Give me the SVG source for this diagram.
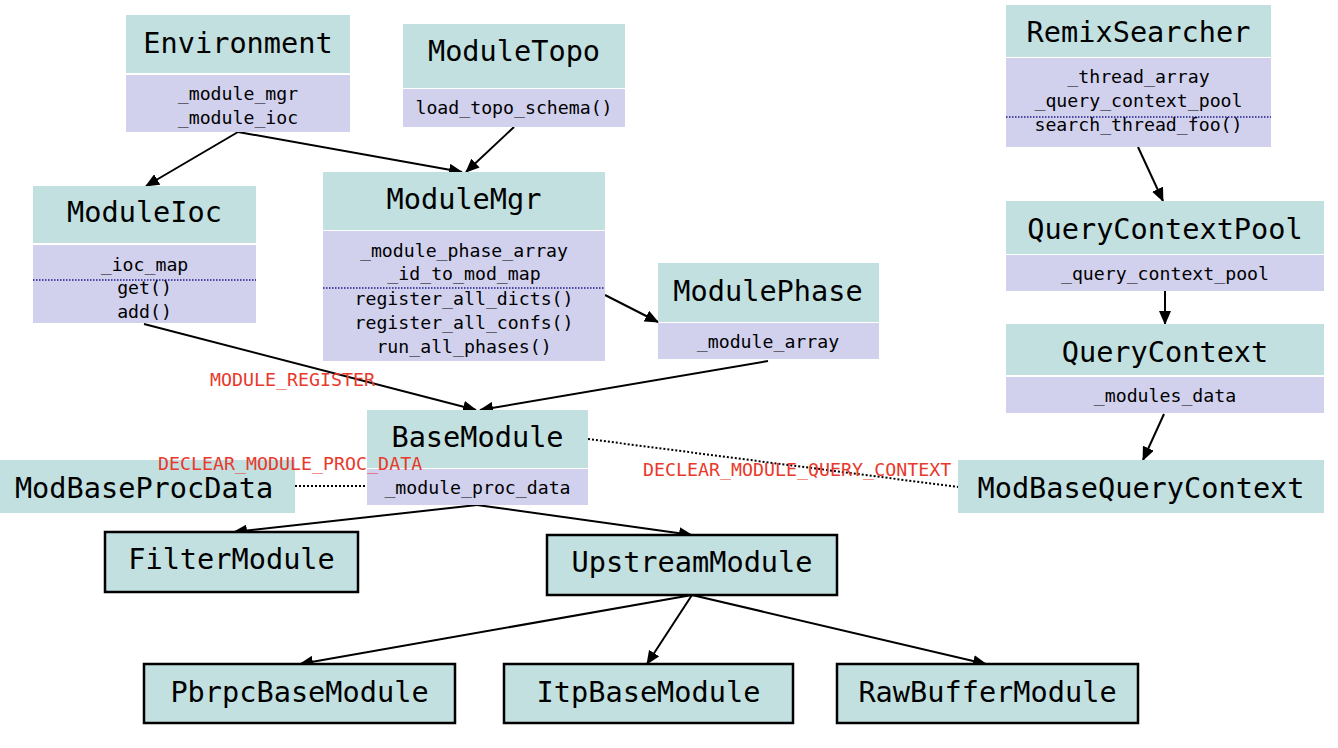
<svg xmlns="http://www.w3.org/2000/svg" width="1338" height="748" viewBox="0 0 1338 748">
<style>
.hd{fill:#c2e0e0}
.bd{fill:#d1d1ee}
.bx{fill:#c2e0e0;stroke:#000;stroke-width:2.5}
.t{font-family:"DejaVu Sans Mono","Liberation Mono",monospace;font-size:28.6px;fill:#000;text-anchor:middle}
.s{font-family:"DejaVu Sans Mono","Liberation Mono",monospace;font-size:18.2px;fill:#000;text-anchor:middle}
.r{font-family:"DejaVu Sans Mono","Liberation Mono",monospace;font-size:18.3px;fill:#e8392c}
.dv{stroke:#1c1c8a;stroke-width:1.5;stroke-dasharray:1.5 1.5;fill:none}
.c{stroke:#000;stroke-width:2;fill:none;marker-end:url(#ah)}
.d{stroke:#000;stroke-width:2;fill:none;stroke-dasharray:2 2}
</style>
<defs>
<marker id="ah" markerUnits="userSpaceOnUse" markerWidth="14" markerHeight="12" refX="13" refY="6" orient="auto">
<path d="M0,0 L14,6 L0,12 z" fill="#000"/>
</marker>
</defs>
<rect width="1338" height="748" fill="#fff"/>

<g id="connectors">
<line class="c" x1="238" y1="132" x2="146" y2="186"/>
<line class="c" x1="238" y1="132" x2="462" y2="172"/>
<line class="c" x1="514" y1="127" x2="466" y2="172"/>
<line class="c" x1="605" y1="295" x2="658" y2="322"/>
<line class="c" x1="144" y1="324" x2="476" y2="410"/>
<line class="c" x1="768" y1="361" x2="480" y2="410"/>
<line class="d" x1="588" y1="439" x2="958" y2="487"/>
<line class="d" x1="295" y1="486" x2="366" y2="486"/>
<line class="c" x1="477" y1="505" x2="234" y2="532"/>
<line class="c" x1="477" y1="505" x2="692" y2="535"/>
<line class="c" x1="692" y1="595" x2="300" y2="664"/>
<line class="c" x1="692" y1="595" x2="647" y2="664"/>
<line class="c" x1="692" y1="595" x2="986" y2="664"/>
<line class="c" x1="1138" y1="147" x2="1163" y2="201"/>
<line class="c" x1="1165" y1="291" x2="1165" y2="324"/>
<line class="c" x1="1164" y1="414" x2="1143" y2="460"/>
</g>

<g id="Environment">
<rect class="hd" x="126" y="15" width="224" height="58"/>
<rect class="bd" x="126" y="75" width="224" height="57"/>
<text class="t" x="238" y="53">Environment</text>
<text class="s" x="238" y="100">_module_mgr</text>
<text class="s" x="238" y="124">_module_ioc</text>
</g>

<g id="ModuleTopo">
<rect class="hd" x="403" y="24" width="222" height="64"/>
<rect class="bd" x="403" y="89" width="222" height="38"/>
<text class="t" x="514" y="61">ModuleTopo</text>
<text class="s" x="514" y="114">load_topo_schema()</text>
</g>

<g id="ModuleIoc">
<rect class="hd" x="33" y="186" width="223" height="57"/>
<rect class="bd" x="33" y="245" width="223" height="78"/>
<text class="t" x="144.5" y="222">ModuleIoc</text>
<text class="s" x="144.5" y="271">_ioc_map</text>
<line class="dv" x1="33" y1="280" x2="256" y2="280"/>
<text class="s" x="144.5" y="294">get()</text>
<text class="s" x="144.5" y="318">add()</text>
</g>

<g id="ModuleMgr">
<rect class="hd" x="323" y="172" width="282" height="58"/>
<rect class="bd" x="323" y="231" width="282" height="130"/>
<text class="t" x="464" y="209">ModuleMgr</text>
<text class="s" x="464" y="257">_module_phase_array</text>
<text class="s" x="464" y="280">_id_to_mod_map</text>
<line class="dv" x1="323" y1="288" x2="605" y2="288"/>
<text class="s" x="464" y="305">register_all_dicts()</text>
<text class="s" x="464" y="329">register_all_confs()</text>
<text class="s" x="464" y="353">run_all_phases()</text>
</g>

<g id="ModulePhase">
<rect class="hd" x="658" y="263" width="221" height="59"/>
<rect class="bd" x="658" y="323" width="221" height="36"/>
<text class="t" x="768" y="301">ModulePhase</text>
<text class="s" x="768" y="348">_module_array</text>
</g>

<g id="RemixSearcher">
<rect class="hd" x="1006" y="5" width="265" height="52"/>
<rect class="bd" x="1006" y="58" width="265" height="89"/>
<text class="t" x="1138.5" y="42">RemixSearcher</text>
<text class="s" x="1138.5" y="83">_thread_array</text>
<text class="s" x="1138.5" y="107">_query_context_pool</text>
<line class="dv" x1="1006" y1="117" x2="1271" y2="117"/>
<text class="s" x="1138.5" y="131">search_thread_foo()</text>
</g>

<g id="QueryContextPool">
<rect class="hd" x="1006" y="201" width="318" height="53"/>
<rect class="bd" x="1006" y="255" width="318" height="36"/>
<text class="t" x="1165" y="239">QueryContextPool</text>
<text class="s" x="1165" y="280">_query_context_pool</text>
</g>

<g id="QueryContext">
<rect class="hd" x="1006" y="324" width="318" height="51"/>
<rect class="bd" x="1006" y="377" width="318" height="36"/>
<text class="t" x="1165" y="362">QueryContext</text>
<text class="s" x="1165" y="402">_modules_data</text>
</g>

<g id="ModBaseQueryContext">
<rect class="hd" x="958" y="460" width="366" height="53"/>
<text class="t" x="1141" y="498">ModBaseQueryContext</text>
</g>

<g id="BaseModule">
<rect class="hd" x="367" y="410" width="221" height="58"/>
<rect class="bd" x="367" y="469" width="221" height="36"/>
<text class="t" x="477.5" y="447">BaseModule</text>
<text class="s" x="477.5" y="494">_module_proc_data</text>
</g>

<g id="ModBaseProcData">
<rect class="hd" x="0" y="460" width="295" height="53"/>
<text class="t" x="144" y="498">ModBaseProcData</text>
</g>

<g id="FilterModule">
<rect class="bx" x="105" y="532" width="253" height="60"/>
<text class="t" x="231.5" y="569">FilterModule</text>
</g>

<g id="UpstreamModule">
<rect class="bx" x="547" y="535" width="290" height="60"/>
<text class="t" x="692" y="572">UpstreamModule</text>
</g>

<g id="PbrpcBaseModule">
<rect class="bx" x="144" y="664" width="311" height="59"/>
<text class="t" x="299.5" y="702">PbrpcBaseModule</text>
</g>

<g id="ItpBaseModule">
<rect class="bx" x="504" y="664" width="289" height="59"/>
<text class="t" x="648.5" y="702">ItpBaseModule</text>
</g>

<g id="RawBufferModule">
<rect class="bx" x="837" y="664" width="301" height="59"/>
<text class="t" x="987.5" y="702">RawBufferModule</text>
</g>

<g id="labels">
<text class="r" x="210" y="386">MODULE_REGISTER</text>
<text class="r" x="158" y="470">DECLEAR_MODULE_PROC_DATA</text>
<text class="r" x="643" y="476">DECLEAR_MODULE_QUERY_CONTEXT</text>
</g>
</svg>
